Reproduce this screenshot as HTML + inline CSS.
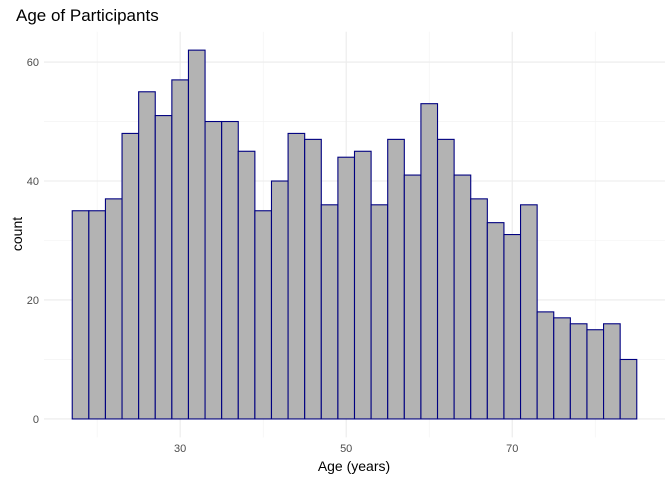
<!DOCTYPE html>
<html><head><meta charset="utf-8"><style>
body{margin:0;background:#fff;font-family:"Liberation Sans",sans-serif}
</style></head><body>
<svg id="chart" width="672" height="480" xmlns="http://www.w3.org/2000/svg" font-family="Liberation Sans, sans-serif">
<rect width="672" height="480" fill="#fff"/>
<text x="16" y="21" font-size="17" fill="#000">Age of Participants</text>
<text x="354" y="471" font-size="14" text-anchor="middle" fill="#000">Age (years)</text>
<text transform="translate(22,234) rotate(-90)" font-size="14" text-anchor="middle" fill="#000">count</text>
<g id="grid"></g><g id="bars"></g><g id="ticks"></g>
</svg>
<script>
const binStart = 17;
const binWidth = 2;
const counts = [35,35,37,48,55,51,57,62,50,50,45,35,40,48,47,36,44,45,36,47,41,53,47,41,37,33,31,36,18,17,16,15,16,10];
const xMajor = [30,50,70];
const xMinor = [20,40,60,80];
const yMajor = [0,20,40,60];
const yMinor = [10,30,50];
const ns="http://www.w3.org/2000/svg";
const X0=44,X1=665,Y0=437.4,Y1=31.7;
const xmin=13.6,xmax=88.4,ymin=-3.1,ymax=65.1;
const sx=v=>X0+(v-xmin)/(xmax-xmin)*(X1-X0);
const sy=v=>Y0-(v-ymin)/(ymax-ymin)*(Y0-Y1);
function mk(tag,attrs,parent){const e=document.createElementNS(ns,tag);for(const k in attrs)e.setAttribute(k,attrs[k]);document.getElementById(parent).appendChild(e);return e;}
xMinor.forEach(v=>{const l=mk('line',{x1:sx(v),x2:sx(v),y1:Y1,y2:Y0,stroke:'#f2f2f2','stroke-width':0.6},'grid');

});
yMinor.forEach(v=>{const l=mk('line',{x1:X0,x2:X1,y1:sy(v),y2:sy(v),stroke:'#f2f2f2','stroke-width':0.6},'grid');

});
xMajor.forEach(v=>{const l=mk('line',{x1:sx(v),x2:sx(v),y1:Y1,y2:Y0,stroke:'#ebebeb','stroke-width':1.1},'grid');


const t=mk('text',{x:sx(v),y:452,'font-size':11,'text-anchor':'middle',fill:'#4d4d4d'},'ticks');t.textContent=v;

});
yMajor.forEach(v=>{const l=mk('line',{x1:X0,x2:X1,y1:sy(v),y2:sy(v),stroke:'#ebebeb','stroke-width':1.1},'grid');


const t=mk('text',{x:39,y:sy(v)+4,'font-size':11,'text-anchor':'end',fill:'#4d4d4d'},'ticks');t.textContent=v;

});
counts.forEach((c,i)=>{const a=binStart+i*binWidth;
const r=mk('rect',{x:sx(a),y:sy(c),width:sx(a+binWidth)-sx(a),height:sy(0)-sy(c),fill:'#b3b3b3',stroke:'#000080','stroke-width':1.1},'bars');

});
</script>
</body></html>
